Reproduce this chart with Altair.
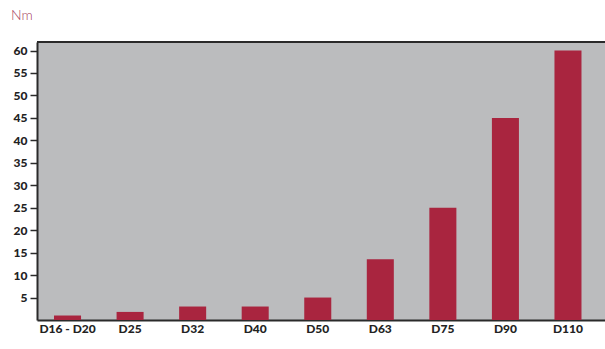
import altair as alt
import pandas as pd

# Torque per valve size
sizes = ["D16 - D20", "D25", "D32", "D40", "D50", "D63", "D75", "D90", "D110"]
torque_nm = [1, 1.8, 3, 3, 5, 13.5, 25, 45, 60]
y_ticks = [5, 10, 15, 20, 25, 30, 35, 40, 45, 50, 55, 60]

df = pd.DataFrame({"size": sizes, "torque": torque_nm})

BAR = "#a9253f"
BG = "#bbbcbe"
AXIS = "#2a2a2a"
FONT = "Lato"

W, H = 568, 278

bars = alt.Chart(df).mark_bar(color=BAR).encode(
    x=alt.X(
        "size:N",
        sort=sizes,
        title=None,
        scale=alt.Scale(paddingInner=0.568, paddingOuter=0.324, align=0.42),
        axis=alt.Axis(
            labelAngle=0,
            ticks=False,
            domainColor=AXIS,
            domainWidth=2,
            labelFont=FONT,
            labelFontWeight=900,
            labelFontSize=12,
            labelColor="#222222",
            labelPadding=3,
        ),
    ),
    y=alt.Y(
        "torque:Q",
        title=None,
        scale=alt.Scale(domain=[0, 61.9], nice=False, zero=True),
        axis=alt.Axis(
            values=y_ticks,
            grid=False,
            domainColor=AXIS,
            domainWidth=2,
            tickColor=AXIS,
            tickSize=7,
            tickWidth=1.5,
            labelFont=FONT,
            labelFontWeight=900,
            labelFontSize=12,
            labelColor="#222222",
            labelPadding=3,
        ),
    ),
)

# top border of the plotting frame
top_line = alt.Chart(df).mark_rule(color=AXIS, strokeWidth=2).encode(
    y=alt.value(0), x=alt.value(0), x2=alt.value(W)
)

chart = (
    alt.layer(bars, top_line)
    .properties(
        width=W,
        height=H,
        background="white",
        padding={"left": 37, "top": 42, "right": 0, "bottom": 29},
        autosize=alt.AutoSizeParams(type="none"),
        title=alt.TitleParams(
            "Nm",
            anchor="start",
            frame="group",
            dx=-26,
            offset=18,
            font=FONT,
            fontSize=14,
            fontWeight=300,
            color="#a63d5c",
        ),
    )
    .configure_view(fill=BG, stroke=None)
)

chart.save("out.html", embed_options={"renderer": "svg", "actions": False})
